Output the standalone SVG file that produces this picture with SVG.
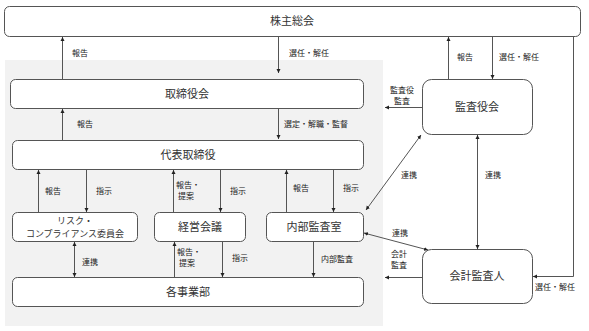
<svg xmlns="http://www.w3.org/2000/svg" width="589" height="331" viewBox="0 0 589 331">
<defs>
<marker id="ah" viewBox="0 0 10 10" refX="10" refY="5" markerWidth="4" markerHeight="5" markerUnits="userSpaceOnUse" orient="auto-start-reverse">
<path d="M0,0 L10,5 L0,10 z" fill="#222"/>
</marker>
<style>
.box{fill:#fff;stroke:#555;stroke-width:1}
.t{font-family:"Noto Sans CJK JP","Noto Sans CJK SC",sans-serif;font-size:11px;fill:#333;text-anchor:middle}
.t2{font-family:"Noto Sans CJK JP","Noto Sans CJK SC",sans-serif;font-size:9px;fill:#333;text-anchor:middle}
.l{font-family:"Noto Sans CJK JP","Noto Sans CJK SC",sans-serif;font-size:8px;fill:#222}
.lc{font-family:"Noto Sans CJK JP","Noto Sans CJK SC",sans-serif;font-size:8px;fill:#222;text-anchor:middle}
.c{fill:none;stroke:#555;stroke-width:1}
.a{marker-end:url(#ah)}
.b{marker-start:url(#ah);marker-end:url(#ah)}
</style>
</defs>
<rect id="bg" x="5" y="60" width="378" height="266" fill="#f2f2f2"/>
<g id="kabunushi"><rect class="box" x="4.5" y="6.5" width="576" height="30" rx="5"/><text class="t" x="292" y="25">株主総会</text></g>
<g id="torishimariyakukai"><rect class="box" x="10.5" y="79.5" width="353" height="29" rx="5"/><text class="t" x="187" y="98">取締役会</text></g>
<g id="daihyo"><rect class="box" x="12.5" y="140.5" width="351" height="29" rx="5"/><text class="t" x="188" y="159">代表取締役</text></g>
<g id="risk"><rect class="box" x="12.5" y="212.5" width="125" height="29" rx="5"/><text class="t2" x="75" y="224">リスク・</text><text class="t2" x="75" y="237">コンプライアンス委員会</text></g>
<g id="keiei"><rect class="box" x="154.5" y="212.5" width="91" height="29" rx="5"/><text class="t" x="200" y="231">経営会議</text></g>
<g id="naibu"><rect class="box" x="266.5" y="212.5" width="97" height="29" rx="5"/><text class="t" x="314" y="231">内部監査室</text></g>
<g id="jigyobu"><rect class="box" x="12.5" y="277.5" width="351" height="29" rx="5"/><text class="t" x="188" y="296">各事業部</text></g>
<g id="kansayakukai"><rect class="box" x="422.5" y="79.5" width="110" height="55" rx="9"/><text class="t" x="477" y="111">監査役会</text></g>
<g id="kaikei"><rect class="box" x="422.5" y="249.5" width="110" height="54" rx="9"/><text class="t" x="477" y="280">会計監査人</text></g>
<g id="connectors">
<line class="c a" x1="62.5" y1="79" x2="62.5" y2="37"/>
<line class="c a" x1="278.5" y1="37" x2="278.5" y2="73"/>
<line class="c a" x1="62.5" y1="140" x2="62.5" y2="109"/>
<line class="c a" x1="278.5" y1="109" x2="278.5" y2="139"/>
<line class="c a" x1="448.5" y1="79" x2="448.5" y2="37"/>
<line class="c a" x1="492.5" y1="37" x2="492.5" y2="79"/>
<line class="c a" x1="422" y1="107.5" x2="385" y2="107.5"/>
<polyline class="c a" points="573.5,37 573.5,276.5 533,276.5"/>
<line class="c b" x1="477.5" y1="135" x2="477.5" y2="249"/>
<line class="c b" x1="366" y1="210" x2="421" y2="135"/>
<line class="c b" x1="364" y1="233" x2="428" y2="250"/>
<line class="c a" x1="422" y1="277.5" x2="385" y2="277.5"/>
<line class="c a" x1="313.5" y1="242" x2="313.5" y2="277"/>
<line class="c a" x1="286.5" y1="212" x2="286.5" y2="170"/>
<line class="c a" x1="333.5" y1="170" x2="333.5" y2="212"/>
<line class="c a" x1="38.5" y1="212" x2="38.5" y2="170"/>
<line class="c a" x1="86.5" y1="170" x2="86.5" y2="212"/>
<line class="c b" x1="74.5" y1="242" x2="74.5" y2="277"/>
<line class="c a" x1="173.5" y1="212" x2="173.5" y2="170"/>
<line class="c a" x1="220.5" y1="170" x2="220.5" y2="212"/>
<line class="c a" x1="174.5" y1="277" x2="174.5" y2="242"/>
<line class="c a" x1="222.5" y1="242" x2="222.5" y2="277"/>
</g>
<g id="labels">
<text class="l" x="72" y="56">報告</text>
<text class="l" x="289" y="56">選任・解任</text>
<text class="l" x="77" y="127">報告</text>
<text class="l" x="284" y="127">選定・解職・監督</text>
<text class="l" x="457" y="60">報告</text>
<text class="l" x="499" y="60">選任・解任</text>
<text class="lc" x="402" y="93">監査役</text>
<text class="lc" x="402" y="104">監査</text>
<text class="l" x="401" y="178">連携</text>
<text class="l" x="485" y="178">連携</text>
<text class="l" x="392" y="236">連携</text>
<text class="lc" x="399" y="257">会計</text>
<text class="lc" x="399" y="268">監査</text>
<text class="l" x="535" y="290">選任・解任</text>
<text class="l" x="321" y="262">内部監査</text>
<text class="l" x="293" y="191">報告</text>
<text class="l" x="343" y="191">指示</text>
<text class="l" x="45" y="194">報告</text>
<text class="l" x="96" y="194">指示</text>
<text class="lc" x="188" y="188">報告・</text>
<text class="lc" x="186" y="199">提案</text>
<text class="l" x="230" y="194">指示</text>
<text class="lc" x="189" y="255">報告・</text>
<text class="lc" x="187" y="266">提案</text>
<text class="l" x="232" y="261">指示</text>
<text class="l" x="82" y="265">連携</text>
</g>
</svg>
